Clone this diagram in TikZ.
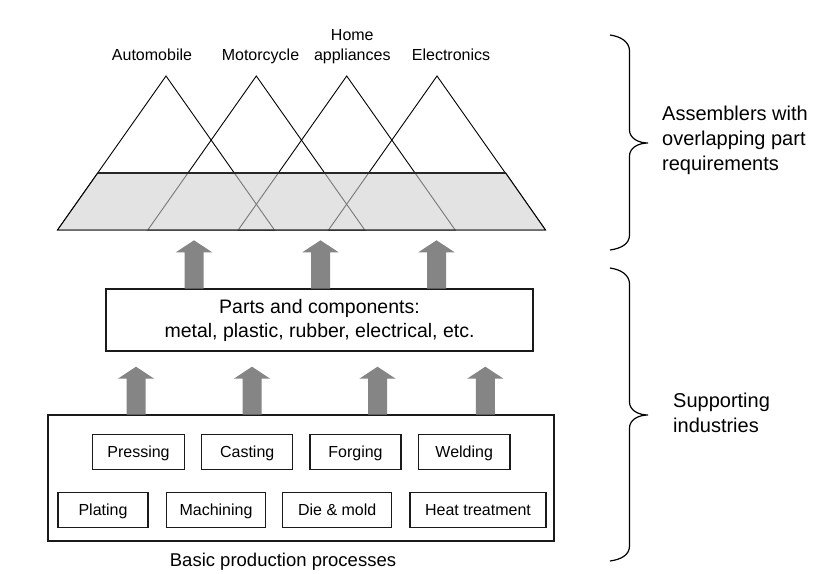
\documentclass[tikz,border=0pt]{standalone}
\usepackage{fontspec}
\setmainfont{Liberation Sans}
\definecolor{bandgray}{HTML}{CFCFCF}
\definecolor{arrowgray}{HTML}{858585}
\definecolor{boxline}{HTML}{1A1A1A}
\newcommand\blockup[3]{% centre x, tip y, foot y
  \fill[arrowgray] (#1-9.5,#3) -- (#1-9.5,#2+12) -- (#1-18.2,#2+12) -- (#1,#2)
    -- (#1+18.2,#2+12) -- (#1+9.5,#2+12) -- (#1+9.5,#3) -- cycle;}
\begin{document}
\begin{tikzpicture}[x=1pt,y=-1pt,
  tri/.style={draw=black,line width=0.9pt,line join=miter},
  lbl/.style={inner sep=0pt,font=\fontsize{16}{20.5}\selectfont},
  side/.style={inner sep=0pt,align=left,font=\fontsize{20}{25}\selectfont},
  frame/.style={draw=boxline,line width=1.4pt},
  proc/.style={draw=boxline,line width=1.4pt,inner sep=0pt,
    text height=11.5pt,text depth=0pt,font=\fontsize{16}{19}\selectfont},
  bracepath/.style={draw=black,line width=1.2pt}]
\useasboundingbox[fill=white] (0,0) rectangle (830,573);

% --- assembler pyramids -------------------------------------------------
\coordinate (t1) at (166,76);    \coordinate (l1) at (57.5,230);  \coordinate (r1) at (274.5,230);
\coordinate (t2) at (256.3,76);  \coordinate (l2) at (147.8,230); \coordinate (r2) at (364.8,230);
\coordinate (t3) at (346.7,76);  \coordinate (l3) at (238.2,230); \coordinate (r3) at (455.2,230);
\coordinate (t4) at (437,76);    \coordinate (l4) at (328.5,230); \coordinate (r4) at (545.5,230);
\coordinate (bandL) at (97.7,173);
\coordinate (bandR) at (505.8,173);

\foreach \i in {1,2,3,4}
  \draw[tri] (t\i) -- (l\i) -- (r\i) -- cycle;

% shared parts band (translucent so the pyramid edges show through in grey)
\fill[bandgray,fill opacity=0.58] (bandL) -- (bandR) -- (r4) -- (l1) -- cycle;
\draw[tri] (bandR) -- (r4) -- (l1) -- (bandL);
\draw[draw=black!85,line width=1.8pt] (bandL) -- (bandR);

\node[lbl,anchor=base] (automobile) at (152,60.7) {Automobile};
\node[lbl,anchor=base] (motorcycle) at (260.5,60.7) {Motorcycle};
\node[lbl,anchor=base] (home) at (352.3,40) {Home};
\node[lbl,anchor=base] (appliances) at (352.3,60.7) {appliances};
\node[lbl,anchor=base] (electronics) at (451,60.7) {Electronics};

% --- parts and components -------------------------------------------------
\node[frame,inner sep=0pt,minimum width=427pt,minimum height=62pt,
  align=center,font=\fontsize{19.5}{24}\selectfont] (parts) at (319.5,320)
  {Parts and components:\\metal, plastic, rubber, electrical, etc.};

\blockup{194}{240.3}{288.5}
\blockup{320.5}{240.3}{288.5}
\blockup{436.5}{240.3}{288.5}

% --- basic production processes --------------------------------------------
\node[frame,inner sep=0pt,minimum width=506pt,minimum height=126pt] (basic) at (301,478) {};

\blockup{136}{366.7}{414.5}
\blockup{252}{366.7}{414.5}
\blockup{377.5}{366.7}{414.5}
\blockup{485.3}{366.7}{414.5}

\node[proc,minimum width=91.6pt,minimum height=35pt] (pressing) at (138.5,451.8) {Pressing};
\node[proc,minimum width=91pt,minimum height=35pt] (casting) at (247.2,451.8) {Casting};
\node[proc,minimum width=91pt,minimum height=35pt] (forging) at (355.5,451.8) {Forging};
\node[proc,minimum width=91.7pt,minimum height=35pt] (welding) at (464.2,451.8) {Welding};

\node[proc,minimum width=90pt,minimum height=34.6pt] (plating) at (103,510) {Plating};
\node[proc,minimum width=99.4pt,minimum height=34.6pt] (machining) at (216,510) {Machining};
\node[proc,minimum width=109pt,minimum height=34.6pt] (diemold) at (337.2,510) {Die \& mold};
\node[proc,minimum width=136pt,minimum height=34.6pt] (heat) at (478,510) {Heat treatment};

\node[inner sep=0pt,anchor=base,font=\fontsize{18.5}{22}\selectfont] (basiclbl) at (283,566) {Basic production processes};

% --- braces --------------------------------------------------------------
\coordinate (ua) at (610,35);  \coordinate (um) at (648,143);  \coordinate (ub) at (610,250);
\coordinate (la) at (610,268); \coordinate (lm) at (648,415);  \coordinate (lb) at (610,561);

\draw[bracepath] (ua) .. controls (621,36.5) and (629.5,42) .. (629.5,51)
  -- (629.5,130) .. controls (629.5,138) and (638,143) .. (um)
  .. controls (638,143) and (629.5,148) .. (629.5,156)
  -- (629.5,235) .. controls (629.5,244) and (621,248.5) .. (ub);
\draw[bracepath] (la) .. controls (621,269.5) and (629.5,275) .. (629.5,284)
  -- (629.5,402) .. controls (629.5,410) and (638,415) .. (lm)
  .. controls (638,415) and (629.5,420) .. (629.5,428)
  -- (629.5,546) .. controls (629.5,555) and (621,559.5) .. (lb);

% multi-line labels: the base anchor sits on the last line
\node[side,anchor=base west] (assemblers) at (662,170.7)
  {Assemblers with\\overlapping part\\requirements};
\node[side,anchor=base west] (supporting) at (673,432.3)
  {Supporting\\industries};
\end{tikzpicture}
\end{document}
